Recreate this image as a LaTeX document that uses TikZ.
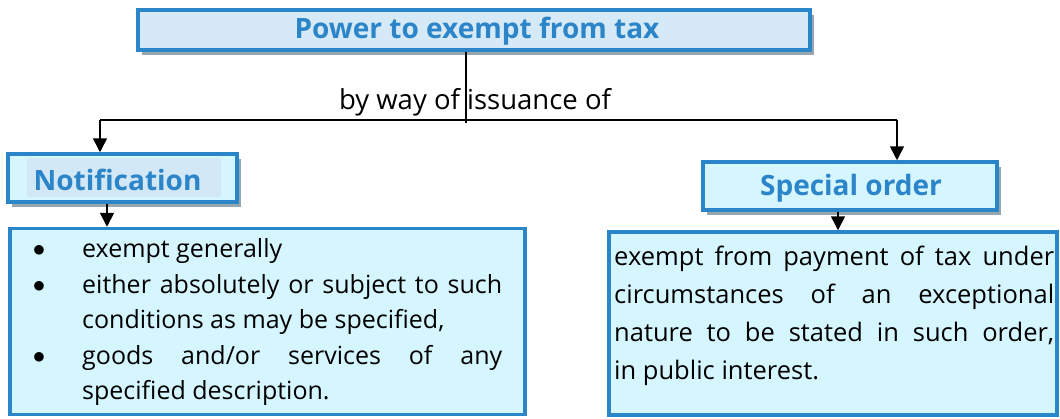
\documentclass[tikz,border=0pt]{standalone}
\usepackage{fontspec}
\setmainfont{Open Sans}
\usepackage{enumitem}
\usetikzlibrary{arrows.meta,shadows,calc}
\definecolor{bordblue}{HTML}{2A86C9}
\definecolor{titleblue}{HTML}{2C85C8}
\definecolor{topfill}{HTML}{D5E9F7}
\definecolor{boxfill}{HTML}{D5F6FF}
\definecolor{hlfill}{HTML}{D3E8F6}
\definecolor{shadowgray}{HTML}{9AA6AE}
\tikzset{
  box/.style={draw=bordblue, line width=3.5pt, fill=boxfill, inner sep=0pt,
    drop shadow={shadow xshift=4pt, shadow yshift=-5pt, fill=shadowgray, opacity=1}},
  plainbox/.style={draw=bordblue, line width=3.5pt, fill=boxfill, inner sep=0pt},
  title/.style={font=\fontsize{28}{32}\selectfont\bfseries, text=titleblue},
  arr/.style={line width=1.6pt, -{Triangle[length=14pt,width=14pt]}},
  conn/.style={line width=1.6pt}
}
\begin{document}
\begin{tikzpicture}[x=1pt,y=-1pt]
\useasboundingbox (0,0) rectangle (1060,418);
% top box
\node[box, fill=topfill, minimum width=672pt, minimum height=40pt] (top) at (474,30) {};
\node[title] (toptxt) at (477,31) {Power to exempt from tax};
% notification
\node[box, minimum width=229pt, minimum height=48pt] (notif) at (122.5,178) {};
\fill[hlfill] (27,158) rectangle (221,197);
\node[title, anchor=west] (notiftxt) at (30,180) {Notification};
% special order
\node[box, minimum width=294pt, minimum height=48pt] (spec) at (850,186) {};
\node[title] (spectxt) at (851,188) {Special order};
% left body box
\node[plainbox, minimum width=515pt, minimum height=186pt] (lbox) at (267.5,321.5) {};
\node[anchor=north west, text width=464pt, align=justify,
  font=\fontsize{25}{35.5}\selectfont, inner sep=0pt] (ltxt) at (38,222) {%
  \begin{itemize}[leftmargin=44pt, labelsep=37pt, itemsep=0pt, topsep=0pt, parsep=0pt, label=\raisebox{1pt}{\fontsize{26}{26}\selectfont$\bullet$}]
  \item exempt generally
  \item either absolutely or subject to such\linebreak conditions as may be specified,
  \item goods and/or services of any\linebreak specified description.
  \end{itemize}};
% right body box
\node[plainbox, minimum width=448pt, minimum height=183pt] (rbox) at (833,323.5) {};
\node[anchor=north west, text width=440pt, align=justify,
  font=\fontsize{25.5}{38}\selectfont, inner sep=0pt] (rtxt) at (614,246) {%
  exempt from payment of tax under\linebreak circumstances of an exceptional\linebreak nature to be stated in such order,\linebreak in public interest.};
% connectors
\coordinate (vtop) at (466,52);
\coordinate (vbot) at (466,123);
\coordinate (jl) at (100,120);
\coordinate (jr) at (897,120);
\node[font=\fontsize{27.5}{30}\selectfont] (lab) at (475,102) {by way of issuance of};
\draw[conn] (vtop) -- (vbot);
\draw[conn] (jl) -- (jr);
\draw[arr] (jl) -- (notif.north -| jl);
\draw[arr] (jr) -- (spec.north -| jr);
\draw[arr] (notif.south -| 107,0) -- (lbox.north -| 107,0);
\draw[arr] (spec.south -| 838,0) -- (rbox.north -| 838,0);
\end{tikzpicture}
\end{document}
